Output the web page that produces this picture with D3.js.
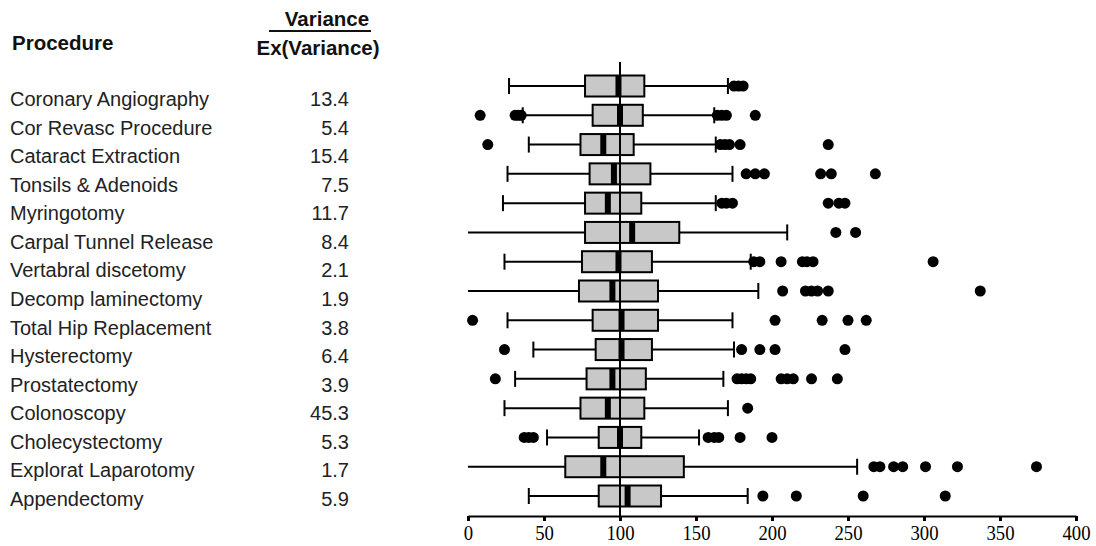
<!DOCTYPE html>
<html>
<head>
<meta charset="utf-8">
<script src="https://cdn.jsdelivr.net/npm/d3@7"></script>
<style>
  body { margin: 0; background: #fff; }
</style>
</head>
<body>
<div id="chart-area"></div>
<script>
const WIDTH = 1096;
const HEIGHT = 546;

// data
const procedures = ["Coronary Angiography", "Cor Revasc Procedure", "Cataract Extraction",
    "Tonsils & Adenoids", "Myringotomy", "Carpal Tunnel Release", "Vertabral discetomy",
    "Decomp laminectomy", "Total Hip Replacement", "Hysterectomy", "Prostatectomy",
    "Colonoscopy", "Cholecystectomy", "Explorat Laparotomy", "Appendectomy"];
const varianceRatio = ["13.4", "5.4", "15.4", "7.5", "11.7", "8.4", "2.1", "1.9", "3.8", "6.4", "3.9", "45.3", "5.3", "1.7", "5.9"];
const whiskerLow  = [27, 36, 40, 26, 23, 0, 24, 0, 26, 43, 31, 24, 52, 0, 40];
const q1          = [77, 82, 74, 80, 77, 77, 75, 73, 82, 84, 78, 74, 86, 64, 86];
const median      = [99, 100, 89, 96, 92, 108, 99, 95, 101, 101, 95, 92, 100, 89, 105];
const q3          = [116, 115, 109, 120, 114, 139, 121, 125, 125, 121, 117, 116, 114, 142, 127];
const whiskerHigh = [171, 162, 163, 174, 163, 210, 186, 191, 174, 175, 168, 171, 152, 256, 184];
const outliers = [
    [175, 178, 181],
    [8, 31, 33, 35, 164, 167, 170, 189],
    [13, 166, 169, 172, 179, 237],
    [183, 189, 195, 232, 239, 268],
    [167, 170, 174, 237, 244, 248],
    [242, 255],
    [188, 192, 206, 220, 223, 227, 306],
    [207, 222, 226, 230, 237, 337],
    [3, 202, 233, 250, 262],
    [24, 180, 192, 202, 248],
    [18, 177, 180, 183, 186, 206, 210, 214, 226, 243],
    [184],
    [37, 40, 43, 158, 162, 165, 179, 200],
    [267, 271, 280, 286, 301, 322, 374],
    [194, 216, 260, 314]
];
const xTicks = [0, 50, 100, 150, 200, 250, 300, 350, 400];
const referenceValue = 100;

const rows = procedures.map((name, i) => ({
    name: name,
    ratio: varianceRatio[i],
    lo: whiskerLow[i], q1: q1[i], med: median[i], q3: q3[i], hi: whiskerHigh[i],
    out: outliers[i]
}));

const x = d3.scaleLinear().domain([0, 400]).range([468, 1076]);
const yBox = d3.scalePoint().domain(procedures).range([86, 496]);
const yLabel = d3.scalePoint().domain(procedures).range([106, 506]);
const axisY = 516;
const boxH = 21;

const svg = d3.select('#chart-area').append('svg')
    .attr("width", WIDTH)
    .attr("height", HEIGHT)
    .attr("style", "font-family: 'Liberation Sans', Arial, sans-serif;");

// headers
svg.append("text")
    .attr("x", 12).attr("y", 50)
    .attr("font-size", 20.5).attr("font-weight", "bold").attr("fill", "#111")
    .text("Procedure");
svg.append("text")
    .attr("x", 327).attr("y", 26)
    .attr("text-anchor", "middle")
    .attr("font-size", 20.5).attr("font-weight", "bold").attr("fill", "#111")
    .text("Variance");
svg.append("line")
    .attr("x1", 269).attr("x2", 371).attr("y1", 31).attr("y2", 31)
    .attr("stroke", "#111").attr("stroke-width", 2);
svg.append("text")
    .attr("x", 318).attr("y", 55)
    .attr("text-anchor", "middle")
    .attr("font-size", 20.5).attr("font-weight", "bold").attr("fill", "#111")
    .text("Ex(Variance)");

// left table
svg.append("g").selectAll()
    .data(rows)
    .join("text")
    .attr("x", 10)
    .attr("y", d => yLabel(d.name))
    .attr("font-size", 20).attr("fill", "#222")
    .text(d => d.name);

svg.append("g").selectAll()
    .data(rows)
    .join("text")
    .attr("x", 349)
    .attr("y", d => yLabel(d.name))
    .attr("text-anchor", "end")
    .attr("font-size", 20).attr("fill", "#222")
    .text(d => d.ratio);

// axis
const axis = svg.append("g")
    .attr("transform", `translate(0,${axisY})`)
    .call(d3.axisBottom(x).tickValues(xTicks).tickSize(5).tickSizeOuter(0).tickPadding(3));
axis.attr("font-family", null);
axis.select(".domain").attr("stroke", "#000").attr("stroke-width", 2);
axis.selectAll(".tick line").attr("stroke", "#000").attr("stroke-width", 3);
// condensed serif tick labels, like the original
axis.selectAll(".tick text")
    .attr("fill", "#000")
    .attr("transform", "scale(0.85,1)")
    .style("font-family", "'Liberation Serif', 'Times New Roman', serif")
    .style("font-size", "22px");

// boxes
const node = svg.append("g")
    .selectAll()
    .data(rows)
    .join("g")
    .attr("transform", d => `translate(0,${yBox(d.name)})`);

node.append("line")
    .attr("x1", d => x(d.lo)).attr("x2", d => x(d.q1))
    .attr("stroke", "#000").attr("stroke-width", 2);
node.append("line")
    .attr("x1", d => x(d.q3)).attr("x2", d => x(d.hi))
    .attr("stroke", "#000").attr("stroke-width", 2);

node.filter(d => d.lo > 0).append("line")
    .attr("x1", d => x(d.lo)).attr("x2", d => x(d.lo))
    .attr("y1", -8).attr("y2", 8)
    .attr("stroke", "#000").attr("stroke-width", 2);
node.append("line")
    .attr("x1", d => x(d.hi)).attr("x2", d => x(d.hi))
    .attr("y1", -8).attr("y2", 8)
    .attr("stroke", "#000").attr("stroke-width", 2);

node.append("rect")
    .attr("x", d => x(d.q1))
    .attr("y", -boxH / 2)
    .attr("width", d => x(d.q3) - x(d.q1))
    .attr("height", boxH)
    .attr("fill", "#c8c8c8")
    .attr("stroke", "#000").attr("stroke-width", 2);

node.append("rect")
    .attr("x", d => x(d.med) - 3)
    .attr("y", -boxH / 2)
    .attr("width", 6)
    .attr("height", boxH)
    .attr("fill", "#000");

node.selectAll("circle")
    .data(d => d.out)
    .join("circle")
    .attr("cx", d => x(d))
    .attr("cy", 0)
    .attr("r", 5.5)
    .attr("fill", "#000");

// reference line at 100
svg.append("line")
    .attr("x1", x(referenceValue)).attr("x2", x(referenceValue))
    .attr("y1", 62).attr("y2", axisY)
    .attr("stroke", "#000").attr("stroke-width", 2);
</script>
</body>
</html>
